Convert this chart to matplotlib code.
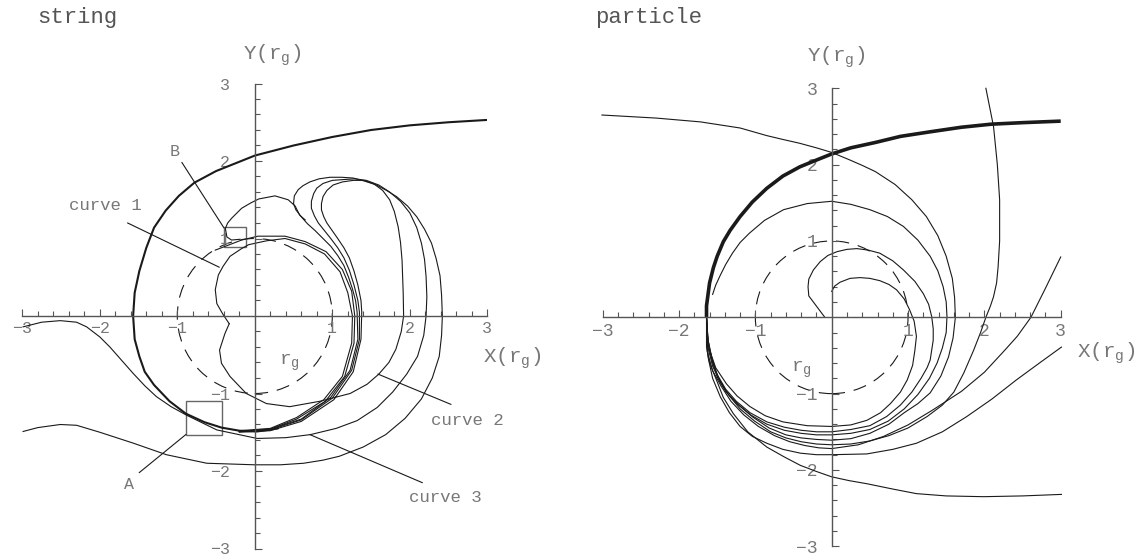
import numpy as np
import matplotlib
matplotlib.use('Agg')
import matplotlib.pyplot as plt
from matplotlib.patches import Circle, Rectangle

plt.rcParams['font.family'] = ['Liberation Mono', 'DejaVu Sans Mono']
plt.rcParams['mathtext.default'] = 'regular'

# ---- string panel (left) ----
thick_x = [3.0, 2.5, 2.0, 1.5, 1.0, 0.5, 0.0, -0.5, -0.78, -0.98, -1.15, -1.3, -1.4, -1.49, -1.55, -1.57, -1.55, -1.49, -1.42,
           -1.3, -1.1, -0.89, -0.65, -0.43, -0.2, 0.03, 0.3]
thick_y = [2.53, 2.5, 2.46, 2.4, 2.31, 2.2, 2.07, 1.87, 1.72, 1.55, 1.36, 1.14, 0.88, 0.58, 0.3, 0.0, -0.3, -0.52, -0.72,
           -0.89, -1.1, -1.26, -1.37, -1.44, -1.48, -1.49, -1.45]

curve1_x = [-0.33, -0.41, -0.49, -0.51, -0.47, -0.41, -0.32, -0.17, -0.08, 0.15, 0.39, 0.65, 0.9, 1.1, 1.2, 1.26, 1.25, 1.13, 0.89, 0.54, 0.2, -0.2]
curve1_y = [-0.10, 0.02, 0.16, 0.34, 0.53, 0.64, 0.77, 0.87, 0.92, 0.97, 1.0, 0.93, 0.8, 0.57, 0.3, 0.0, -0.35, -0.78, -1.08, -1.31, -1.45, -1.48]

hookB_x = [-0.51, -0.17, 0.04, 0.39, 0.65, 0.92, 1.13, 1.25, 1.29, 1.28, 1.16, 0.91, 0.54, 0.2, -0.2]
hookB_y = [0.85, 0.98, 1.03, 1.03, 0.96, 0.83, 0.6, 0.32, 0.0, -0.35, -0.78, -1.1, -1.33, -1.46, -1.49]

loop_x = [-0.19, -0.30, -0.36, -0.38, -0.35, -0.30, -0.17, -0.05, 0.05, 0.26, 0.43, 0.52, 0.58, 0.65]
loop_y = [0.99, 0.98, 1.02, 1.13, 1.2, 1.26, 1.39, 1.46, 1.51, 1.55, 1.50, 1.42, 1.30, 1.24]

curve2_x = [-0.33, -0.385, -0.455, -0.43, -0.32, -0.11, 0.15, 0.45, 0.84, 1.23, 1.45, 1.6, 1.73, 1.82, 1.89, 1.92, 1.915, 1.9, 1.88, 1.85,
            1.8, 1.74, 1.65, 1.53, 1.4, 1.27, 1.13, 1.01, 0.93, 0.88, 0.86, 0.86, 0.89, 0.93, 1.0, 1.07, 1.15, 1.22, 1.28, 1.33, 1.37,
            1.38, 1.37, 1.27, 1.02, 0.6, 0.2, -0.2]
curve2_y = [-0.10, -0.225, -0.44, -0.61, -0.78, -1.0, -1.13, -1.17, -1.1, -1.0, -0.88, -0.75, -0.6, -0.43, -0.2, 0.0, 0.29, 0.72, 0.95, 1.15,
            1.35, 1.5, 1.62, 1.71, 1.75, 1.75, 1.73, 1.69, 1.62, 1.54, 1.45, 1.37, 1.28, 1.2, 1.1, 1.0, 0.88, 0.75, 0.58, 0.4, 0.2,
            0.05, -0.3, -0.72, -1.08, -1.36, -1.48, -1.5]

curve3_x = [-2.99, -2.75, -2.51, -2.3, -2.17, -2.0, -1.87, -1.72, -1.57, -1.42, -1.27, -1.08, -0.88, -0.49, 0.03, 0.4, 0.72, 1.05, 1.32,
            1.58, 1.78, 1.96, 2.1, 2.18, 2.21, 2.22, 2.21, 2.19, 2.15, 2.09, 2.0, 1.88, 1.74, 1.6, 1.44, 1.29, 1.14, 1.0, 0.88, 0.8,
            0.76, 0.73, 0.73, 0.77, 0.82, 0.9, 0.98, 1.07, 1.15, 1.22, 1.28, 1.33, 1.35, 1.35, 1.25, 1.0, 0.6, 0.2, -0.2]
curve3_y = [-0.14, -0.08, -0.06, -0.08, -0.14, -0.27, -0.4, -0.57, -0.74, -0.9, -1.04, -1.17, -1.28, -1.47, -1.58, -1.57, -1.53, -1.45, -1.35,
            -1.18, -0.98, -0.75, -0.52, -0.25, 0.0, 0.25, 0.51, 0.73, 0.94, 1.14, 1.33, 1.48, 1.6, 1.69, 1.75, 1.77, 1.76, 1.75, 1.71, 1.65,
            1.58, 1.48, 1.39, 1.29, 1.2, 1.1, 1.0, 0.88, 0.75, 0.59, 0.4, 0.2, 0.05, -0.3, -0.7, -1.06, -1.34, -1.47, -1.49]

curve4_x = [-2.99, -2.8, -2.51, -2.3, -2.0, -1.57, -1.14, -0.62, 0.0, 0.33, 0.63, 0.88, 1.09, 1.4, 1.69, 1.94, 2.15, 2.29, 2.38, 2.41,
            2.42, 2.41, 2.39, 2.34, 2.28, 2.19, 2.09, 1.97, 1.83, 1.7, 1.57, 1.42, 1.27, 1.12, 0.97, 0.83, 0.71, 0.62, 0.56, 0.51, 0.5,
            0.53, 0.6, 0.68, 0.78, 0.88, 0.98, 1.07, 1.15, 1.21, 1.26, 1.3, 1.32, 1.33, 1.23, 0.98, 0.6, 0.2, -0.2]
curve4_y = [-1.49, -1.44, -1.40, -1.41, -1.5, -1.64, -1.79, -1.90, -1.92, -1.92, -1.9, -1.86, -1.81, -1.69, -1.53, -1.32, -1.07, -0.8, -0.52, -0.25,
            0.0, 0.27, 0.52, 0.74, 0.94, 1.12, 1.28, 1.42, 1.54, 1.62, 1.69, 1.74, 1.78, 1.79, 1.79, 1.77, 1.73, 1.68, 1.63, 1.55, 1.45,
            1.37, 1.28, 1.19, 1.1, 1.0, 0.9, 0.78, 0.65, 0.5, 0.35, 0.2, 0.05, -0.3, -0.7, -1.05, -1.33, -1.46, -1.49]

# ---- particle panel (right) ----
pthick_x = [3.0, 2.5, 2.09, 1.7, 1.29, 0.9, 0.57, 0.25, 0.0, -0.2, -0.42, -0.64, -0.85, -1.04, -1.2, -1.33, -1.42, -1.5, -1.55, -1.6, -1.62, -1.64, -1.64]
pthick_y = [2.57, 2.55, 2.53, 2.49, 2.43, 2.37, 2.29, 2.22, 2.14, 2.06, 1.97, 1.85, 1.69, 1.51, 1.32, 1.14, 0.99, 0.8, 0.65, 0.45, 0.3, 0.15, 0.0]

p1_x = [-1.64, -1.63, -1.6, -1.52, -1.38, -1.24, -1.07, -0.87, -0.64, -0.32, 0.0, 0.25, 0.46, 0.64, 0.77, 0.9, 0.99, 1.06, 1.09, 1.11,
        1.08, 1.02, 0.95, 0.85, 0.75, 0.63, 0.5, 0.37, 0.24, 0.11, 0.04, 0.0]
p1_y = [0.0, -0.22, -0.43, -0.66, -0.87, -1.03, -1.17, -1.29, -1.37, -1.42, -1.43, -1.41, -1.35, -1.25, -1.13, -0.98, -0.82, -0.63, -0.43, -0.25,
        -0.05, 0.10, 0.24, 0.36, 0.43, 0.48, 0.51, 0.52, 0.51, 0.46, 0.41, 0.34]

p2_x = [-1.64, -1.62, -1.57, -1.5, -1.39, -1.25, -1.07, -0.85, -0.62, -0.4, -0.2, 0.0, 0.25, 0.5, 0.72, 0.9, 1.05, 1.17, 1.25, 1.29, 1.33,
        1.33, 1.31, 1.27, 1.2, 1.09, 0.94, 0.8, 0.63, 0.48, 0.33, 0.2, 0.07, -0.05, -0.15, -0.24, -0.3, -0.31, -0.3, -0.09]
p2_y = [0.0, -0.3, -0.53, -0.75, -0.94, -1.1, -1.25, -1.37, -1.44, -1.48, -1.5, -1.5, -1.47, -1.42, -1.3, -1.15, -0.98, -0.8, -0.66, -0.56, -0.3,
        -0.15, 0.01, 0.17, 0.31, 0.47, 0.62, 0.74, 0.84, 0.88, 0.9, 0.89, 0.86, 0.81, 0.73, 0.62, 0.5, 0.4, 0.28, 0.0]

p3_x = [-1.64, -1.62, -1.57, -1.5, -1.39, -1.25, -1.06, -0.85, -0.62, -0.4, -0.2, 0.0, 0.25, 0.5, 0.74, 0.95, 1.13, 1.28, 1.38, 1.45, 1.5,
        1.51, 1.5, 1.46, 1.39, 1.29, 1.13, 0.94, 0.73, 0.5, 0.25, 0.0, -0.32, -0.63, -0.88, -1.08, -1.2, -1.3, -1.39, -1.46, -1.52, -1.56]
p3_y = [0.0, -0.3, -0.55, -0.78, -0.97, -1.12, -1.28, -1.4, -1.48, -1.52, -1.54, -1.54, -1.52, -1.47, -1.36, -1.2, -1.01, -0.8, -0.6, -0.4, -0.2,
        0.01, 0.2, 0.4, 0.61, 0.8, 1.01, 1.19, 1.32, 1.41, 1.48, 1.52, 1.49, 1.41, 1.27, 1.1, 0.98, 0.84, 0.69, 0.55, 0.42, 0.3]

p4_x = [-1.64, -1.62, -1.56, -1.48, -1.37, -1.22, -1.03, -0.82, -0.6, -0.4, -0.2, 0.0, 0.25, 0.5, 0.75, 0.95, 1.13, 1.29, 1.43, 1.53, 1.59,
        1.62, 1.61, 1.58, 1.5, 1.39, 1.24, 1.05, 0.83, 0.57, 0.4, 0.24, 0.0, -0.2, -0.42, -0.64, -0.85, -1.2, -1.72, -2.3, -3.01]
p4_y = [0.0, -0.35, -0.6, -0.8, -0.99, -1.15, -1.31, -1.45, -1.54, -1.58, -1.6, -1.61, -1.59, -1.52, -1.4, -1.25, -1.13, -0.99, -0.77, -0.52, -0.27,
        0.0, 0.26, 0.51, 0.8, 1.07, 1.32, 1.54, 1.74, 1.91, 1.99, 2.06, 2.16, 2.22, 2.28, 2.33, 2.38, 2.48, 2.56, 2.61, 2.65]

p5_x = [-1.64, -1.62, -1.56, -1.46, -1.34, -1.2, -1.01, -0.8, -0.6, -0.4, -0.2, 0.0, 0.25, 0.5, 0.75, 1.0, 1.25, 1.45, 1.6, 1.73, 1.86,
        1.95, 2.02, 2.08, 2.12, 2.16, 2.18, 2.2, 2.2, 2.17, 2.12, 2.02]
p5_y = [0.0, -0.4, -0.64, -0.85, -1.03, -1.2, -1.36, -1.5, -1.58, -1.63, -1.66, -1.67, -1.66, -1.62, -1.55, -1.45, -1.3, -1.15, -0.98, -0.73, -0.43,
        -0.2, 0.0, 0.15, 0.27, 0.45, 0.66, 1.0, 1.54, 2.0, 2.5, 3.0]

p6_x = [-1.64, -1.63, -1.56, -1.45, -1.32, -1.15, -0.96, -0.75, -0.55, -0.35, -0.17, 0.0, 0.35, 0.68, 1.0, 1.33, 1.7, 2.0, 2.25, 2.43, 2.61, 2.8, 3.0]
p6_y = [0.0, -0.45, -0.7, -0.9, -1.1, -1.28, -1.43, -1.55, -1.63, -1.68, -1.71, -1.72, -1.67, -1.56, -1.41, -1.21, -0.97, -0.72, -0.45, -0.25, 0.0, 0.38, 0.79]

p7_x = [-1.64, -1.62, -1.56, -1.46, -1.34, -1.2, -1.04, -0.85, -0.64, -0.41, -0.2, 0.0, 0.46, 0.8, 1.11, 1.45, 1.77, 2.1, 2.42, 2.72, 3.01]
p7_y = [0.0, -0.52, -0.8, -1.04, -1.25, -1.43, -1.56, -1.65, -1.73, -1.78, -1.8, -1.8, -1.79, -1.73, -1.65, -1.5, -1.3, -1.07, -0.82, -0.6, -0.39]

p8_x = [-1.64, -1.64, -1.6, -1.51, -1.42, -1.29, -1.1, -0.85, -0.62, -0.41, -0.2, 0.0, 0.23, 0.46, 0.8, 1.11, 1.5, 1.99, 2.5, 3.01]
p8_y = [0.0, -0.39, -0.6, -0.82, -1.05, -1.26, -1.5, -1.70, -1.83, -1.94, -2.02, -2.09, -2.14, -2.18, -2.25, -2.31, -2.34, -2.35, -2.34, -2.32]

major = [-3, -2, -1, 1, 2, 3]
major_labels = ['\u22123', '\u22122', '\u22121', '1', '2', '3']

axis_col = '#555555'
text_col = '#777777'
line_col = '#1a1a1a'

fig = plt.figure(figsize=(11.42, 5.57), dpi=100)
axL = fig.add_axes([22.3 / 1142, 1 - 548.5 / 557, 465 / 1142, 465 / 557])
axR = fig.add_axes([602.7 / 1142, 1 - 546.3 / 557, 458 / 1142, 458 / 557])


def setup(ax, fs, xpad, ypad):
    ax.set_xlim(-3, 3)
    ax.set_ylim(-3, 3)
    ax.patch.set_visible(False)
    ax.spines['top'].set_visible(False)
    ax.spines['right'].set_visible(False)
    ax.spines['left'].set_position('zero')
    ax.spines['bottom'].set_position('zero')
    for s in ['left', 'bottom']:
        ax.spines[s].set_color(axis_col)
        ax.spines[s].set_linewidth(1.0)
    minor = [m for m in np.arange(-3, 3.01, 0.2) if abs(m - round(m)) > 0.05]
    ax.set_xticks(major, major_labels)
    ax.set_yticks(major, major_labels)
    ax.set_xticks(minor, minor=True)
    ax.set_yticks(minor, minor=True)
    ax.tick_params(which='both', direction='in', color=axis_col, labelcolor=text_col, labelsize=fs, width=0.8)
    ax.tick_params(which='major', length=5)
    ax.tick_params(which='minor', length=3.5)
    ax.tick_params(axis='x', pad=xpad)
    ax.tick_params(axis='y', pad=ypad)
    ax.add_patch(Circle((0, 0), 1, fill=False, ec=line_col, lw=0.8, ls=(0, (12, 8))))


setup(axL, 12, 3.5, 18)
setup(axR, 13, 4, 10)

# left panel
axL.plot(thick_x, thick_y, color=line_col, lw=1.5, solid_capstyle='round')
for xs, ys in [(curve1_x, curve1_y), (hookB_x, hookB_y), (loop_x, loop_y),
               (curve2_x, curve2_y), (curve3_x, curve3_y), (curve4_x, curve4_y)]:
    axL.plot(xs, ys, color=line_col, lw=0.8)

axL.add_patch(Rectangle((-0.89, -1.53), 0.47, 0.43, fill=False, ec='#666666', lw=1.0))
axL.add_patch(Rectangle((-0.40, 0.89), 0.28, 0.26, fill=False, ec='#666666', lw=1.0))

leaders = [((-1.49, -0.89), (-2.02, -1.53)), ((-0.94, -0.40), (1.98, 1.14)),
           ((-1.64, -0.46), (1.2, 0.63)), ((2.53, 1.59), (-1.14, -0.75)), ((2.16, 0.71), (-2.15, -1.53))]
for lx, ly in leaders:
    axL.plot(lx, ly, color=line_col, lw=0.8)

axL.text(-1.62, -2.18, 'A', color=text_col, fontsize=12, ha='center', va='center')
axL.text(-1.03, 2.12, 'B', color=text_col, fontsize=12, ha='center', va='center')
axL.text(-1.93, 1.43, 'curve 1', color=text_col, fontsize=12.5, ha='center', va='center')
axL.text(2.74, -1.35, 'curve 2', color=text_col, fontsize=12.5, ha='center', va='center')
axL.text(2.46, -2.34, 'curve 3', color=text_col, fontsize=12.5, ha='center', va='center')
axL.text(0.45, -0.6, 'r$_g$', color=text_col, fontsize=14, ha='center', va='center')
axL.text(0.22, 3.37, 'Y(r$_g$)', color=text_col, fontsize=15, ha='center', va='center')
axL.text(3.32, -0.54, 'X(r$_g$)', color=text_col, fontsize=15, ha='center', va='center')

# right panel
axR.plot(pthick_x, pthick_y, color=line_col, lw=2.6, solid_capstyle='butt')
for xs, ys in [(p1_x, p1_y), (p2_x, p2_y), (p3_x, p3_y), (p4_x, p4_y),
               (p5_x, p5_y), (p6_x, p6_y), (p7_x, p7_y), (p8_x, p8_y)]:
    axR.plot(xs, ys, color=line_col, lw=0.8, clip_on=False)

axR.text(-0.4, -0.68, 'r$_g$', color=text_col, fontsize=14, ha='center', va='center')
axR.text(0.06, 3.41, 'Y(r$_g$)', color=text_col, fontsize=15, ha='center', va='center')
axR.text(3.59, -0.47, 'X(r$_g$)', color=text_col, fontsize=15, ha='center', va='center')

fig.text(37 / 1142, 1 - 18 / 557, 'string', color='#555555', fontsize=16, ha='left', va='center')
fig.text(595 / 1142, 1 - 18 / 557, 'particle', color='#555555', fontsize=16, ha='left', va='center')

fig.savefig('out.png', dpi=100)
